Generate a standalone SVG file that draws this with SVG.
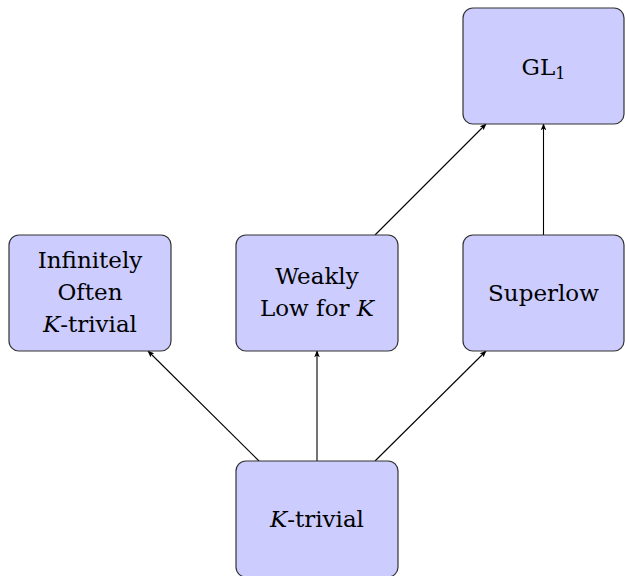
<svg xmlns="http://www.w3.org/2000/svg" width="625" height="576" viewBox="0 0 625 576">
<defs>
<style>
.box{fill:#ccccff;stroke:#333;stroke-width:1.2}
.t{font-family:'DejaVu Serif',serif;font-size:23px;fill:#000;text-anchor:middle}
.e{stroke:#000;stroke-width:1.1;fill:none;marker-end:url(#ah)}
</style>
<marker id="ah" viewBox="0 0 10 10" refX="9" refY="5" markerWidth="7" markerHeight="7" orient="auto" markerUnits="userSpaceOnUse">
<path d="M0,1 L10,5 L0,9 L2.5,5 Z" fill="#000"/>
</marker>
</defs>
<g id="connectors">
<line class="e" x1="259" y1="461" x2="148" y2="351"/>
<line class="e" x1="317" y1="461" x2="317" y2="351"/>
<line class="e" x1="375" y1="461" x2="486" y2="351"/>
<line class="e" x1="375" y1="235" x2="486" y2="124"/>
<line class="e" x1="543.5" y1="235" x2="543.5" y2="124"/>
</g>
<g id="gl1">
<rect class="box" x="463" y="8" width="161" height="116" rx="10"/>
<text class="t" x="543.5" y="75">GL<tspan font-size="16" dy="4">1</tspan></text>
</g>
<g id="io">
<rect class="box" x="9" y="235" width="162" height="116" rx="10"/>
<text class="t" x="90" y="268">Infinitely</text>
<text class="t" x="90" y="300">Often</text>
<text class="t" x="90" y="332"><tspan font-style="italic">K</tspan>-trivial</text>
</g>
<g id="weakly">
<rect class="box" x="236" y="235" width="162" height="116" rx="10"/>
<text class="t" x="317" y="284">Weakly</text>
<text class="t" x="317" y="316">Low for <tspan font-style="italic">K</tspan></text>
</g>
<g id="superlow">
<rect class="box" x="463" y="235" width="161" height="116" rx="10"/>
<text class="t" x="543.5" y="301">Superlow</text>
</g>
<g id="ktrivial">
<rect class="box" x="236" y="461" width="162" height="116" rx="10"/>
<text class="t" x="317" y="527"><tspan font-style="italic">K</tspan>-trivial</text>
</g>
</svg>
